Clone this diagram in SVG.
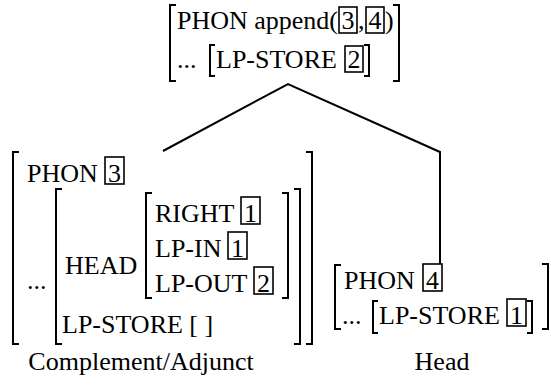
<svg xmlns="http://www.w3.org/2000/svg" width="551" height="387" viewBox="0 0 551 387">
<style>
text{font-family:"Liberation Serif","Times New Roman",serif;font-size:26px;fill:#000}
.br{fill:none;stroke:#000;stroke-width:2}
.bx{fill:none;stroke:#000;stroke-width:1.6}
.c{text-anchor:middle}
.ln{fill:none;stroke:#000;stroke-width:2}
</style>
<rect width="551" height="387" fill="#fff"/>
<g id="connectors">
<path class="ln" d="M163 151 L288 84 L440 152 L440 264"/>
</g>
<g id="n-top">
<path class="br" d="M176 5 H170 V81 H176"/>
<path class="br" d="M393 5 H399 V81 H393"/>
<text x="177" y="29">PHON append(</text>
<rect class="bx" x="339" y="7" width="18" height="26"/>
<text class="c" x="348" y="29">3</text>
<text x="358" y="29">,</text>
<rect class="bx" x="366" y="7" width="18" height="26"/>
<text class="c" x="375" y="29">4</text>
<text x="385" y="29">)</text>
<text x="177" y="68">...</text>
<path class="br" d="M215 45 H210 V76 H215"/>
<text x="216" y="68">LP-STORE</text>
<rect class="bx" x="345" y="46" width="18" height="26"/>
<text class="c" x="354" y="68">2</text>
<path class="br" d="M364 45 H369 V76 H364"/>
</g>
<g id="n-comp">
<path class="br" d="M19 152 H13 V344 H19"/>
<path class="br" d="M306 152 H312 V344 H306"/>
<text x="27" y="182">PHON</text>
<rect class="bx" x="105" y="157" width="19" height="27"/>
<text class="c" x="114.5" y="182">3</text>
<text x="27" y="289">...</text>
<path class="br" d="M62 189 H56 V344 H62"/>
<path class="br" d="M294 189 H300 V344 H294"/>
<text x="65" y="274">HEAD</text>
<path class="br" d="M152 193 H146 V298 H152"/>
<path class="br" d="M282 193 H288 V298 H282"/>
<text x="155" y="222">RIGHT</text>
<rect class="bx" x="241" y="197" width="19" height="27"/>
<text class="c" x="250.5" y="222">1</text>
<text x="155" y="257">LP-IN</text>
<rect class="bx" x="228" y="232" width="19" height="27"/>
<text class="c" x="237.5" y="257">1</text>
<text x="155" y="292">LP-OUT</text>
<rect class="bx" x="254" y="267" width="19" height="27"/>
<text class="c" x="263.5" y="292">2</text>
<text x="62" y="333">LP-STORE [ ]</text>
<text class="c" x="141" y="370">Complement/Adjunct</text>
</g>
<g id="n-head">
<path class="br" d="M341 265 H335 V329 H341"/>
<path class="br" d="M542 264 H548 V329 H542"/>
<text x="344" y="289">PHON</text>
<rect class="bx" x="423" y="264" width="19" height="27"/>
<text class="c" x="432.5" y="289">4</text>
<text x="342" y="324">...</text>
<path class="br" d="M378 301 H373 V333 H378"/>
<text x="379" y="324">LP-STORE</text>
<rect class="bx" x="507" y="299" width="19" height="27"/>
<text class="c" x="516.5" y="324">1</text>
<path class="br" d="M527 301 H532 V333 H527"/>
<text class="c" x="442" y="370">Head</text>
</g>
</svg>
